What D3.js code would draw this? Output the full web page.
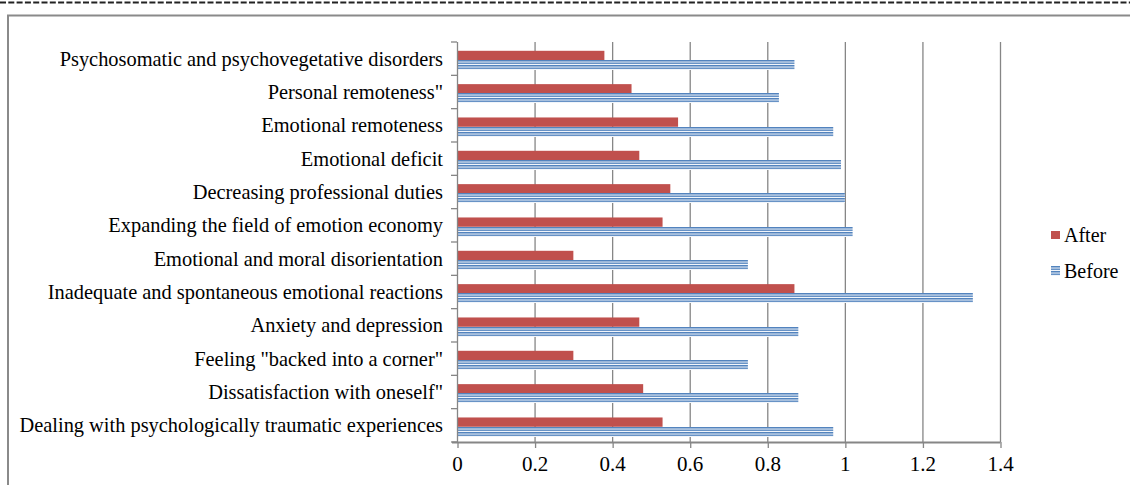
<!DOCTYPE html>
<html>
<head>
<meta charset="utf-8">
<script src="https://cdn.jsdelivr.net/npm/d3@7"></script>
<style>
  body { margin: 0; background: #fff; }
  text { font-family: "Liberation Serif", "Times New Roman", serif; fill: #000; }
</style>
</head>
<body>
<div id="chart"></div>
<script>
// Data
var categories = [
  "Psychosomatic and psychovegetative disorders",
  "Personal remoteness\"",
  "Emotional remoteness",
  "Emotional deficit",
  "Decreasing professional duties",
  "Expanding the field of emotion economy",
  "Emotional and moral disorientation",
  "Inadequate and spontaneous emotional reactions",
  "Anxiety and depression",
  "Feeling \"backed into a corner\"",
  "Dissatisfaction with oneself\"",
  "Dealing with psychologically traumatic experiences"
];
var afterValues  = [0.38, 0.45, 0.57, 0.47, 0.55, 0.53, 0.30, 0.87, 0.47, 0.30, 0.48, 0.53];
var beforeValues = [0.87, 0.83, 0.97, 0.99, 1.00, 1.02, 0.75, 1.33, 0.88, 0.75, 0.88, 0.97];
var seriesNames = ["After", "Before"];
var xTicks = [0, 0.2, 0.4, 0.6, 0.8, 1, 1.2, 1.4];

var svgWidth = 1130;
var svgHeight = 485;

var margin = { top: 42, left: 457, right: 130, bottom: 43 };
var width = svgWidth - margin.left - margin.right;   // 543
var height = svgHeight - margin.top - margin.bottom; // 400

var svg = d3.select("#chart")
  .append("svg")
  .attr("width", svgWidth)
  .attr("height", svgHeight);

// striped fill for the "Before" series
var defs = svg.append("defs");
var pat = defs.append("pattern")
  .attr("id", "stripes")
  .attr("patternUnits", "objectBoundingBox")
  .attr("patternContentUnits", "objectBoundingBox")
  .attr("width", 1)
  .attr("height", 0.25);
pat.append("rect").attr("width", 1).attr("height", 0.25).attr("fill", "#fff");
pat.append("rect").attr("width", 1).attr("height", 0.15).attr("fill", "#4F81BD");

// page frame: dashed rule at top, grey box edges
svg.append("line")
  .attr("x1", 0).attr("x2", svgWidth)
  .attr("y1", 2.5).attr("y2", 2.5)
  .attr("stroke", "#222")
  .attr("stroke-width", 2)
  .attr("stroke-dasharray", "6,2.3");

svg.append("path")
  .attr("d", "M8," + svgHeight + "V15.5H" + svgWidth)
  .attr("fill", "none")
  .attr("stroke", "#8a8a8a")
  .attr("stroke-width", 2);

var chartGroup = svg.append("g")
  .attr("transform", `translate(${margin.left}, ${margin.top})`);

// scales
var xScale = d3.scaleLinear()
  .domain([0, 1.4])
  .range([0, width]);

var yScale = d3.scaleBand()
  .domain(categories)
  .range([0, height]);

var ySub = d3.scaleBand()
  .domain(seriesNames)
  .range([0, 18.6]);

var subOffset = 8.8;

// vertical gridlines
chartGroup.append("g")
  .selectAll("line")
  .data(xTicks.slice(1))
  .enter()
  .append("line")
  .attr("x1", d => xScale(d) + 0.5)
  .attr("x2", d => xScale(d) + 0.5)
  .attr("y1", 0)
  .attr("y2", height)
  .attr("stroke", "#868686")
  .attr("stroke-width", 1.3);

// bars
var rows = categories.map((c, i) => ({ cat: c, After: afterValues[i], Before: beforeValues[i] }));

chartGroup.append("g")
  .selectAll("rect")
  .data(rows)
  .enter()
  .append("rect")
  .attr("x", 0)
  .attr("y", d => yScale(d.cat) + subOffset + ySub("After"))
  .attr("width", d => xScale(d.After))
  .attr("height", ySub.bandwidth())
  .attr("fill", "#C0504D");

chartGroup.append("g")
  .selectAll("rect")
  .data(rows)
  .enter()
  .append("rect")
  .attr("x", 0)
  .attr("y", d => Math.round(yScale(d.cat) + subOffset + ySub("Before")))
  .attr("width", d => xScale(d.Before))
  .attr("height", 10)
  .attr("fill", "url(#stripes)");

// x axis
var bottomAxis = d3.axisBottom(xScale)
  .tickValues(xTicks)
  .tickSize(6)
  .tickPadding(8)
  .tickFormat(d3.format("~g"));

var xAxis = chartGroup.append("g")
  .attr("transform", `translate(0, ${height})`)
  .call(bottomAxis);

xAxis.select(".domain").attr("stroke", "#868686").attr("stroke-width", 2)
  .attr("d", `M-5,0.5H${width + 0.5}`);
xAxis.selectAll(".tick line").attr("stroke", "#868686").attr("stroke-width", 1.3)
  .attr("transform", "translate(0.5,0)");
xAxis.selectAll(".tick text")
  .style("font-size", "21px")
  .attr("dy", "0.71em");

// y axis: ticks sit on the category boundaries
var yAxisG = chartGroup.append("g");
yAxisG.append("line")
  .attr("x1", 0.5).attr("x2", 0.5)
  .attr("y1", 0).attr("y2", height)
  .attr("stroke", "#868686")
  .attr("stroke-width", 1.3);

yAxisG.selectAll(".ytick")
  .data(categories.concat([null]))
  .enter()
  .append("line")
  .attr("class", "ytick")
  .attr("x1", -6).attr("x2", 0)
  .attr("y1", (d, i) => i * yScale.step())
  .attr("y2", (d, i) => i * yScale.step())
  .attr("stroke", "#868686")
  .attr("stroke-width", 1.3);

yAxisG.selectAll(".ylabel")
  .data(categories)
  .enter()
  .append("text")
  .attr("class", "ylabel")
  .attr("x", -14)
  .attr("y", d => yScale(d) + yScale.bandwidth() / 2)
  .attr("dy", "0.35em")
  .attr("text-anchor", "end")
  .style("font-size", "20.4px")
  .text(d => d);

// legend
var legend = svg.append("g")
  .attr("transform", "translate(1051, 231)");

var legendItems = legend.selectAll("g")
  .data(seriesNames)
  .enter()
  .append("g")
  .attr("transform", (d, i) => `translate(0, ${i * 36})`);

legendItems.append("rect")
  .attr("x", 0)
  .attr("y", (d, i) => i === 0 ? 0 : -1)
  .attr("width", 9)
  .attr("height", (d, i) => i === 0 ? 8 : 10)
  .attr("fill", d => d === "After" ? "#C0504D" : "url(#stripes)");

legendItems.append("text")
  .attr("x", 13)
  .attr("y", 11)
  .style("font-size", "20px")
  .text(d => d);
</script>
</body>
</html>
